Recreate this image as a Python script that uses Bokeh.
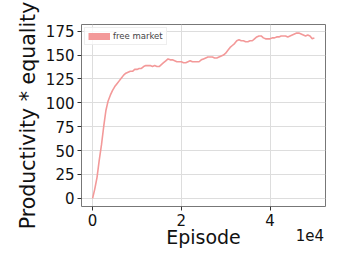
from bokeh.plotting import figure
from bokeh.embed import file_html
from bokeh.resources import INLINE
from bokeh.models import FixedTicker, Range1d, Legend, LegendItem, LinearAxis

episodes = [0, 500, 1000, 1500, 2000, 2500, 3000, 3500, 4000, 4500, 5000, 5500, 6000, 6500, 7000, 7500,
            8000, 8500, 9000, 9500, 10000, 10500, 11000, 11500, 12000, 12500, 13000, 13500, 14000, 14500,
            15000, 15500, 16000, 16500, 17000, 17500, 18000, 18500, 19000, 19500, 20000, 20500, 21000,
            21500, 22000, 22500, 23000, 23500, 24000, 24500, 25000, 25500, 26000, 26500, 27000, 27500,
            28000, 28500, 29000, 29500, 30000, 30500, 31000, 31500, 32000, 32500, 33000, 33500, 34000,
            34500, 35000, 35500, 36000, 36500, 37000, 37500, 38000, 38500, 39000, 39500, 40000, 40500,
            41000, 41500, 42000, 42500, 43000, 43500, 44000, 44500, 45000, 45500, 46000, 46500, 47000,
            47500, 48000, 48500, 49000, 49500, 50000]
score = [0, 10, 22, 40, 56, 75, 92, 102, 108, 113, 117, 120, 123, 126, 129, 131,
         132, 133, 133, 135, 135, 136, 136, 138, 139, 139, 139, 138, 139, 138,
         138, 140, 142, 144, 146, 145, 145, 144, 143, 143, 143, 142, 142,
         143, 144, 143, 143, 143, 143, 145, 146, 147, 148, 148, 148, 147,
         147, 148, 149, 150, 152, 155, 158, 160, 162, 165, 166, 165, 165,
         164, 164, 165, 165, 167, 169, 170, 170, 168, 167, 167, 167, 168,
         168, 169, 169, 170, 170, 170, 169, 170, 171, 172, 173, 173, 172,
         171, 170, 171, 170, 167, 168]
x_ticks = [0, 20000, 40000]
x_tick_labels = {0: "0", 20000: "2", 40000: "4"}
y_ticks = [0, 25, 50, 75, 100, 125, 150, 175]
offset_pos = 49000
offset_text = "1e4"

FONT = "DejaVu Sans"
line_color = "#f39999"

p = figure(width=346, height=261, output_backend="svg", toolbar_location=None,
           x_range=Range1d(-2500, 52500), y_range=Range1d(-8.5, 182),
           min_border_left=81, min_border_right=21, min_border_top=24, min_border_bottom=55)

r = p.line(episodes, score, line_color=line_color, line_width=1.6)
leg_r = p.line(episodes[:1], score[:1], line_color=line_color, line_width=7)

legend = Legend(items=[LegendItem(label="free market", renderers=[leg_r])], location="top_left",
                label_text_font=FONT, label_text_font_size="8.5px", glyph_width=22, glyph_height=10,
                label_height=10, padding=3, margin=3, spacing=0, label_standoff=3,
                border_line_color="#dddddd", background_fill_alpha=0.8)
p.add_layout(legend)

p.xaxis.ticker = FixedTicker(ticks=x_ticks)
p.xaxis.major_label_overrides = x_tick_labels
p.yaxis.ticker = FixedTicker(ticks=y_ticks)
for ax in (p.xaxis, p.yaxis):
    ax.axis_line_color = None
    ax.major_tick_line_color = "#333333"
    ax.major_tick_out = 4
    ax.major_tick_in = 0
    ax.minor_tick_line_color = None
    ax.major_label_text_font = FONT
    ax.major_label_text_font_size = "15px"
    ax.major_label_text_color = "#111111"
    ax.axis_label_text_font = FONT
    ax.axis_label_text_font_style = "normal"
    ax.axis_label_text_color = "#111111"
p.xaxis.major_label_standoff = 3
p.yaxis.axis_label = "Productivity * equality"
p.yaxis.axis_label_text_font_size = "20.5px"
p.yaxis.axis_label_standoff = 3
p.yaxis.major_label_standoff = 3

# second axis below: carries the "1e4" offset text and the "Episode" label
ax2 = LinearAxis(ticker=FixedTicker(ticks=[offset_pos]),
                 major_label_overrides={offset_pos: offset_text},
                 axis_line_color=None, major_tick_line_color=None, minor_tick_line_color=None,
                 major_tick_out=0, major_tick_in=0, major_label_standoff=0,
                 major_label_text_font=FONT, major_label_text_font_size="15px",
                 major_label_text_color="#111111",
                 axis_label="Episode", axis_label_text_font=FONT, axis_label_text_font_size="19px",
                 axis_label_text_font_style="normal", axis_label_text_color="#111111",
                 axis_label_standoff=-18)
p.add_layout(ax2, "below")

p.xgrid.ticker = FixedTicker(ticks=x_ticks)
p.ygrid.ticker = FixedTicker(ticks=y_ticks)
p.grid.grid_line_color = "#dddddd"
p.grid.grid_line_width = 1
p.outline_line_color = "#777777"
p.outline_line_width = 1

open("out.html", "w").write(file_html(p, INLINE))
